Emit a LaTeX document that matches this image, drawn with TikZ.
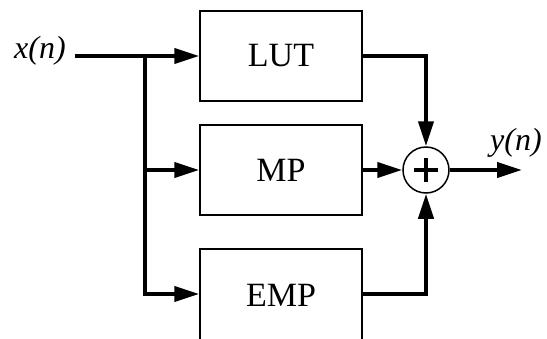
\documentclass[tikz,border=0pt]{standalone}
\usepackage{fontspec}
\setmainfont{Liberation Serif}
\usetikzlibrary{arrows.meta}
\tikzset{
  blk/.style={draw, line width=1.5pt, minimum width=162pt, minimum height=90pt, inner sep=0pt, font=\fontsize{34}{34}\selectfont},
  sig/.style={line width=4pt, -{Triangle[length=25pt,width=15pt]}},
  lbl/.style={font=\fontsize{32}{32}\selectfont\itshape, inner sep=0pt},
  adder/.style={draw, circle, line width=1.5pt, minimum size=46pt, inner sep=0pt}
}
\begin{document}
\begin{tikzpicture}[x=1pt,y=-1pt]
\useasboundingbox (0,0) rectangle (547,338);
\clip (0,0) rectangle (547,338);
\node[blk] (LUT) at (281,56) {LUT};
\node[blk] (MP) at (281,170) {MP};
\node[blk, minimum height=96pt, text depth=0pt] (EMP) at (281,297) {};
\node[font=\fontsize{34}{34}\selectfont, inner sep=0pt] (EMPt) at (281,295) {EMP};
\node[adder] (sum) at (426,170) {};
\draw[line width=4pt] ([xshift=-12pt]sum.center) -- ([xshift=12pt]sum.center);
\draw[line width=4pt] ([yshift=-12pt]sum.center) -- ([yshift=12pt]sum.center);
\node[lbl] (xl) at (40,51) {x(n)};
\node[lbl] (yl) at (516,143) {y(n)};
\coordinate (in) at (75,56);
\coordinate (br) at (145,56);
\coordinate (out) at (522,170);
\coordinate (embr) at (145,294);
\coordinate (emin) at (EMP.west |- embr);
\coordinate (emout) at (EMP.east |- embr);
\draw[sig] (in) -- (LUT.west);
\draw[sig] (br) |- (MP.west);
\draw[sig] (br) |- (emin);
\draw[sig] (LUT.east) -| (sum.north);
\draw[sig] (MP.east) -- (sum.west);
\draw[sig] (emout) -| (sum.south);
\draw[sig] (sum.east) -- (out);
\end{tikzpicture}
\end{document}
